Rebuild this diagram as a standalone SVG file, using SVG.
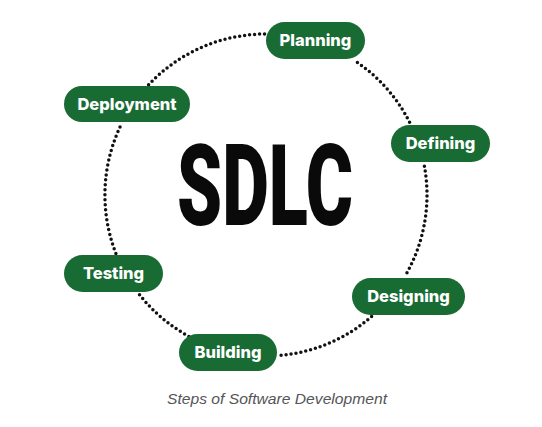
<svg xmlns="http://www.w3.org/2000/svg" width="542" height="427" viewBox="0 0 542 427">
<style>
.pill{fill:#176b33;}
.lbl{fill:#ffffff;font-family:Inter,"Open Sans","Liberation Sans",sans-serif;font-weight:800;font-size:16.5px;text-anchor:middle;}
.ring{fill:none;stroke:#111;stroke-width:3.5;stroke-linecap:round;stroke-dasharray:0 5;}
</style>
<rect width="542" height="427" fill="#ffffff"/>
<g id="connectors">
<path class="ring" d="M357.4 62.5 A161 161 0 0 1 411.4 125.9"/>
<path class="ring" d="M424.4 166.2 A161 161 0 0 1 404.7 276.7"/>
<path class="ring" d="M371.6 316.5 A161 161 0 0 1 277 355.7"/>
<path class="ring" d="M188.9 336.4 A161 161 0 0 1 138.6 293.5"/>
<path class="ring" d="M115.9 253.5 A161 161 0 0 1 121.1 124.7"/>
<path class="ring" d="M148.6 84.7 A161 161 0 0 1 264.9 34"/>
</g>
<g id="title">
<text transform="translate(177 225) scale(1 1.58)" x="0" y="0" font-family="Roboto,'Liberation Sans',sans-serif" font-weight="900" font-size="71" textLength="176" lengthAdjust="spacingAndGlyphs" fill="#0a0a0a">SDLC</text>
</g>
<g id="planning"><rect class="pill" x="266" y="22" width="99" height="37" rx="18.5"/><text class="lbl" x="315.5" y="46">Planning</text></g>
<g id="defining"><rect class="pill" x="391" y="125" width="99" height="37" rx="18.5"/><text class="lbl" x="440.5" y="149">Defining</text></g>
<g id="designing"><rect class="pill" x="352" y="278" width="113" height="37" rx="18.5"/><text class="lbl" x="408.5" y="302">Designing</text></g>
<g id="building"><rect class="pill" x="179" y="334" width="98" height="37" rx="18.5"/><text class="lbl" x="228" y="358">Building</text></g>
<g id="testing"><rect class="pill" x="64" y="255" width="99" height="37" rx="18.5"/><text class="lbl" x="113.5" y="279">Testing</text></g>
<g id="deployment"><rect class="pill" x="64" y="86" width="126" height="36" rx="18"/><text class="lbl" x="127" y="110">Deployment</text></g>
<g id="caption">
<text x="277" y="404" font-family="'Liberation Sans',sans-serif" font-style="italic" font-size="14" fill="#555" text-anchor="middle" textLength="220" lengthAdjust="spacingAndGlyphs">Steps of Software Development</text>
</g>
</svg>
